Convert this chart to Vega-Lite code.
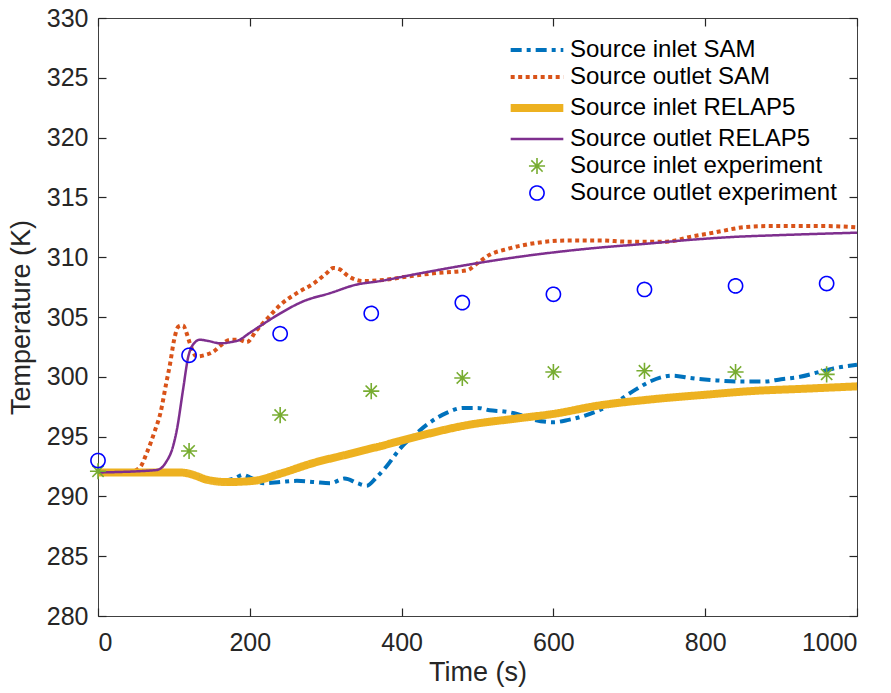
{
  "$schema": "https://vega.github.io/schema/vega-lite/v6.json",
  "width": 759,
  "height": 598,
  "autosize": {"type": "none"},
  "padding": {"left": 98, "top": 18, "right": 34, "bottom": 77},
  "config": {
    "font": "Liberation Sans",
    "view": {"stroke": "#404040", "strokeWidth": 1},
    "axis": {"grid": false, "domain": false, "tickColor": "#262626", "labelColor": "#262626", "titleColor": "#262626", "labelFontSize": 25, "titleFontSize": 27, "titleFontWeight": "normal", "tickSize": 8, "offset": -8, "tickWidth": 1.2},
    "legend": {"labelFontSize": 24, "labelColor": "#000000", "padding": 0, "labelLimit": 500}
  },
  "datasets": {
    "lines": [
      {"s": "Source inlet SAM", "t": 0, "T": 292.0},
      {"s": "Source inlet SAM", "t": 110, "T": 292.0},
      {"s": "Source inlet SAM", "t": 125, "T": 291.8},
      {"s": "Source inlet SAM", "t": 140, "T": 291.5},
      {"s": "Source inlet SAM", "t": 160, "T": 291.3},
      {"s": "Source inlet SAM", "t": 180, "T": 291.5},
      {"s": "Source inlet SAM", "t": 191, "T": 291.8},
      {"s": "Source inlet SAM", "t": 200, "T": 291.6},
      {"s": "Source inlet SAM", "t": 218, "T": 291.1},
      {"s": "Source inlet SAM", "t": 240, "T": 291.2},
      {"s": "Source inlet SAM", "t": 262, "T": 291.3},
      {"s": "Source inlet SAM", "t": 285, "T": 291.2},
      {"s": "Source inlet SAM", "t": 306, "T": 291.1},
      {"s": "Source inlet SAM", "t": 325, "T": 291.5},
      {"s": "Source inlet SAM", "t": 342, "T": 291.1},
      {"s": "Source inlet SAM", "t": 354, "T": 290.9},
      {"s": "Source inlet SAM", "t": 367, "T": 291.6},
      {"s": "Source inlet SAM", "t": 380, "T": 292.5},
      {"s": "Source inlet SAM", "t": 398, "T": 294.0},
      {"s": "Source inlet SAM", "t": 420, "T": 295.3},
      {"s": "Source inlet SAM", "t": 440, "T": 296.3},
      {"s": "Source inlet SAM", "t": 460, "T": 297.0},
      {"s": "Source inlet SAM", "t": 481, "T": 297.4},
      {"s": "Source inlet SAM", "t": 500, "T": 297.4},
      {"s": "Source inlet SAM", "t": 516, "T": 297.2},
      {"s": "Source inlet SAM", "t": 535, "T": 297.1},
      {"s": "Source inlet SAM", "t": 552, "T": 296.9},
      {"s": "Source inlet SAM", "t": 575, "T": 296.4},
      {"s": "Source inlet SAM", "t": 600, "T": 296.2},
      {"s": "Source inlet SAM", "t": 620, "T": 296.4},
      {"s": "Source inlet SAM", "t": 639, "T": 296.7},
      {"s": "Source inlet SAM", "t": 660, "T": 297.2},
      {"s": "Source inlet SAM", "t": 683, "T": 297.9},
      {"s": "Source inlet SAM", "t": 705, "T": 298.8},
      {"s": "Source inlet SAM", "t": 727, "T": 299.6},
      {"s": "Source inlet SAM", "t": 745, "T": 300.0},
      {"s": "Source inlet SAM", "t": 758, "T": 300.1},
      {"s": "Source inlet SAM", "t": 780, "T": 299.9},
      {"s": "Source inlet SAM", "t": 815, "T": 299.7},
      {"s": "Source inlet SAM", "t": 850, "T": 299.6},
      {"s": "Source inlet SAM", "t": 877, "T": 299.6},
      {"s": "Source inlet SAM", "t": 900, "T": 299.8},
      {"s": "Source inlet SAM", "t": 925, "T": 300.0},
      {"s": "Source inlet SAM", "t": 950, "T": 300.4},
      {"s": "Source inlet SAM", "t": 969, "T": 300.7},
      {"s": "Source inlet SAM", "t": 1000, "T": 301.0},

      {"s": "Source outlet SAM", "t": 0, "T": 292.0},
      {"s": "Source outlet SAM", "t": 40, "T": 292.0},
      {"s": "Source outlet SAM", "t": 55, "T": 292.4},
      {"s": "Source outlet SAM", "t": 64, "T": 293.6},
      {"s": "Source outlet SAM", "t": 75, "T": 295.5},
      {"s": "Source outlet SAM", "t": 82, "T": 296.9},
      {"s": "Source outlet SAM", "t": 90, "T": 299.5},
      {"s": "Source outlet SAM", "t": 95, "T": 301.1},
      {"s": "Source outlet SAM", "t": 100, "T": 303.0},
      {"s": "Source outlet SAM", "t": 106, "T": 304.2},
      {"s": "Source outlet SAM", "t": 112, "T": 304.3},
      {"s": "Source outlet SAM", "t": 117, "T": 303.6},
      {"s": "Source outlet SAM", "t": 121, "T": 302.8},
      {"s": "Source outlet SAM", "t": 130, "T": 301.7},
      {"s": "Source outlet SAM", "t": 140, "T": 301.8},
      {"s": "Source outlet SAM", "t": 152, "T": 302.1},
      {"s": "Source outlet SAM", "t": 163, "T": 302.7},
      {"s": "Source outlet SAM", "t": 174, "T": 303.1},
      {"s": "Source outlet SAM", "t": 185, "T": 303.1},
      {"s": "Source outlet SAM", "t": 196, "T": 302.9},
      {"s": "Source outlet SAM", "t": 209, "T": 303.9},
      {"s": "Source outlet SAM", "t": 225, "T": 305.0},
      {"s": "Source outlet SAM", "t": 240, "T": 306.0},
      {"s": "Source outlet SAM", "t": 262, "T": 307.0},
      {"s": "Source outlet SAM", "t": 284, "T": 307.8},
      {"s": "Source outlet SAM", "t": 300, "T": 308.6},
      {"s": "Source outlet SAM", "t": 310, "T": 309.1},
      {"s": "Source outlet SAM", "t": 318, "T": 309.0},
      {"s": "Source outlet SAM", "t": 330, "T": 308.4},
      {"s": "Source outlet SAM", "t": 350, "T": 308.0},
      {"s": "Source outlet SAM", "t": 376, "T": 308.1},
      {"s": "Source outlet SAM", "t": 410, "T": 308.4},
      {"s": "Source outlet SAM", "t": 442, "T": 308.65},
      {"s": "Source outlet SAM", "t": 486, "T": 308.9},
      {"s": "Source outlet SAM", "t": 500, "T": 309.5},
      {"s": "Source outlet SAM", "t": 516, "T": 310.2},
      {"s": "Source outlet SAM", "t": 540, "T": 310.7},
      {"s": "Source outlet SAM", "t": 578, "T": 311.2},
      {"s": "Source outlet SAM", "t": 620, "T": 311.4},
      {"s": "Source outlet SAM", "t": 661, "T": 311.4},
      {"s": "Source outlet SAM", "t": 700, "T": 311.3},
      {"s": "Source outlet SAM", "t": 749, "T": 311.3},
      {"s": "Source outlet SAM", "t": 780, "T": 311.7},
      {"s": "Source outlet SAM", "t": 815, "T": 312.1},
      {"s": "Source outlet SAM", "t": 850, "T": 312.5},
      {"s": "Source outlet SAM", "t": 880, "T": 312.6},
      {"s": "Source outlet SAM", "t": 920, "T": 312.6},
      {"s": "Source outlet SAM", "t": 960, "T": 312.6},
      {"s": "Source outlet SAM", "t": 1000, "T": 312.5},

      {"s": "Source inlet RELAP5", "t": 0, "T": 292.0},
      {"s": "Source inlet RELAP5", "t": 108, "T": 292.0},
      {"s": "Source inlet RELAP5", "t": 120, "T": 291.9},
      {"s": "Source inlet RELAP5", "t": 130, "T": 291.7},
      {"s": "Source inlet RELAP5", "t": 143, "T": 291.4},
      {"s": "Source inlet RELAP5", "t": 170, "T": 291.2},
      {"s": "Source inlet RELAP5", "t": 205, "T": 291.3},
      {"s": "Source inlet RELAP5", "t": 240, "T": 291.9},
      {"s": "Source inlet RELAP5", "t": 284, "T": 292.8},
      {"s": "Source inlet RELAP5", "t": 328, "T": 293.5},
      {"s": "Source inlet RELAP5", "t": 372, "T": 294.2},
      {"s": "Source inlet RELAP5", "t": 420, "T": 295.0},
      {"s": "Source inlet RELAP5", "t": 490, "T": 296.0},
      {"s": "Source inlet RELAP5", "t": 550, "T": 296.5},
      {"s": "Source inlet RELAP5", "t": 600, "T": 296.9},
      {"s": "Source inlet RELAP5", "t": 660, "T": 297.6},
      {"s": "Source inlet RELAP5", "t": 727, "T": 298.1},
      {"s": "Source inlet RELAP5", "t": 800, "T": 298.5},
      {"s": "Source inlet RELAP5", "t": 859, "T": 298.8},
      {"s": "Source inlet RELAP5", "t": 930, "T": 299.0},
      {"s": "Source inlet RELAP5", "t": 1000, "T": 299.2},

      {"s": "Source outlet RELAP5", "t": 0, "T": 292.0},
      {"s": "Source outlet RELAP5", "t": 77, "T": 292.2},
      {"s": "Source outlet RELAP5", "t": 90, "T": 292.9},
      {"s": "Source outlet RELAP5", "t": 98, "T": 294.0},
      {"s": "Source outlet RELAP5", "t": 104, "T": 295.6},
      {"s": "Source outlet RELAP5", "t": 112, "T": 298.9},
      {"s": "Source outlet RELAP5", "t": 119, "T": 301.7},
      {"s": "Source outlet RELAP5", "t": 128, "T": 302.9},
      {"s": "Source outlet RELAP5", "t": 134, "T": 303.1},
      {"s": "Source outlet RELAP5", "t": 145, "T": 303.0},
      {"s": "Source outlet RELAP5", "t": 161, "T": 302.8},
      {"s": "Source outlet RELAP5", "t": 175, "T": 302.9},
      {"s": "Source outlet RELAP5", "t": 187, "T": 303.1},
      {"s": "Source outlet RELAP5", "t": 196, "T": 303.5},
      {"s": "Source outlet RELAP5", "t": 215, "T": 304.3},
      {"s": "Source outlet RELAP5", "t": 240, "T": 305.3},
      {"s": "Source outlet RELAP5", "t": 270, "T": 306.3},
      {"s": "Source outlet RELAP5", "t": 306, "T": 307.0},
      {"s": "Source outlet RELAP5", "t": 340, "T": 307.7},
      {"s": "Source outlet RELAP5", "t": 371, "T": 308.0},
      {"s": "Source outlet RELAP5", "t": 420, "T": 308.6},
      {"s": "Source outlet RELAP5", "t": 481, "T": 309.3},
      {"s": "Source outlet RELAP5", "t": 540, "T": 309.9},
      {"s": "Source outlet RELAP5", "t": 600, "T": 310.4},
      {"s": "Source outlet RELAP5", "t": 660, "T": 310.8},
      {"s": "Source outlet RELAP5", "t": 718, "T": 311.1},
      {"s": "Source outlet RELAP5", "t": 780, "T": 311.45},
      {"s": "Source outlet RELAP5", "t": 839, "T": 311.7},
      {"s": "Source outlet RELAP5", "t": 900, "T": 311.85},
      {"s": "Source outlet RELAP5", "t": 1000, "T": 312.05}
    ],
    "points": [
      {"s": "Source inlet experiment", "t": 0, "T": 292.1},
      {"s": "Source inlet experiment", "t": 120, "T": 293.8},
      {"s": "Source inlet experiment", "t": 240, "T": 296.8},
      {"s": "Source inlet experiment", "t": 360, "T": 298.8},
      {"s": "Source inlet experiment", "t": 480, "T": 299.9},
      {"s": "Source inlet experiment", "t": 600, "T": 300.4},
      {"s": "Source inlet experiment", "t": 720, "T": 300.5},
      {"s": "Source inlet experiment", "t": 840, "T": 300.4},
      {"s": "Source inlet experiment", "t": 960, "T": 300.2},
      {"s": "Source outlet experiment", "t": 0, "T": 293.0},
      {"s": "Source outlet experiment", "t": 120, "T": 301.8},
      {"s": "Source outlet experiment", "t": 240, "T": 303.6},
      {"s": "Source outlet experiment", "t": 360, "T": 305.3},
      {"s": "Source outlet experiment", "t": 480, "T": 306.2},
      {"s": "Source outlet experiment", "t": 600, "T": 306.9},
      {"s": "Source outlet experiment", "t": 720, "T": 307.3},
      {"s": "Source outlet experiment", "t": 840, "T": 307.6},
      {"s": "Source outlet experiment", "t": 960, "T": 307.8}
    ]
  },
  "resolve": {"axis": {"x": "independent", "y": "independent"}},
  "encoding": {
    "color": {"field": "s", "type": "nominal", "scale": {"domain": ["Source inlet SAM", "Source outlet SAM", "Source inlet RELAP5", "Source outlet RELAP5", "Source inlet experiment", "Source outlet experiment"], "range": ["#0072BD", "#D95319", "#EDB120", "#7E2F8E", "#77AC30", "#0000FF"]}, "legend": {"title": null, "orient": "top-right", "offset": 20, "labelOffset": 20, "rowPadding": 3}},
    "strokeDash": {"field": "s", "type": "nominal", "scale": {"domain": ["Source inlet SAM", "Source outlet SAM", "Source inlet RELAP5", "Source outlet RELAP5", "Source inlet experiment", "Source outlet experiment"], "range": [[11, 5, 4, 5], [4, 3.5], [1, 0], [1, 0], [1, 0], [1, 0]]}, "legend": {"title": null, "orient": "top-right", "offset": 20, "labelOffset": 20, "rowPadding": 3}},
    "strokeWidth": {"field": "s", "type": "nominal", "scale": {"type": "ordinal", "domain": ["Source inlet SAM", "Source outlet SAM", "Source inlet RELAP5", "Source outlet RELAP5", "Source inlet experiment", "Source outlet experiment"], "range": [4, 4, 8, 2.5, 1.6, 1.6]}, "legend": {"title": null, "orient": "top-right", "offset": 20, "labelOffset": 20, "rowPadding": 3}}
  },
  "layer": [
    {
      "data": {"name": "lines"},
      "transform": [{"filter": "datum.s === 'Source inlet SAM'"}],
      "mark": {"type": "line", "interpolate": "monotone", "clip": false},
      "encoding": {
        "x": {"field": "t", "type": "quantitative", "scale": {"domain": [0, 1000], "nice": false, "zero": false}, "axis": {"title": "Time (s)", "values": [0, 200, 400, 600, 800, 1000], "format": "d", "labelPadding": 14, "titlePadding": 4}},
        "y": {"field": "T", "type": "quantitative", "scale": {"domain": [280, 330], "nice": false, "zero": false}, "axis": {"title": "Temperature (K)", "values": [280, 285, 290, 295, 300, 305, 310, 315, 320, 325, 330], "labelPadding": 10, "titlePadding": 11}}
      }
    },
    {
      "data": {"name": "lines"},
      "transform": [{"filter": "datum.s === 'Source outlet SAM'"}],
      "mark": {"type": "line", "interpolate": "monotone", "clip": false},
      "encoding": {
        "x": {"field": "t", "type": "quantitative", "axis": {"orient": "top", "title": null, "labels": false, "values": [0, 200, 400, 600, 800, 1000]}},
        "y": {"field": "T", "type": "quantitative", "axis": {"orient": "right", "title": null, "labels": false, "values": [280, 285, 290, 295, 300, 305, 310, 315, 320, 325, 330]}}
      }
    },
    {
      "data": {"name": "lines"},
      "transform": [{"filter": "datum.s === 'Source inlet RELAP5'"}],
      "mark": {"type": "line", "interpolate": "monotone", "clip": false},
      "encoding": {
        "x": {"field": "t", "type": "quantitative", "axis": null},
        "y": {"field": "T", "type": "quantitative", "axis": null}
      }
    },
    {
      "data": {"name": "lines"},
      "transform": [{"filter": "datum.s === 'Source outlet RELAP5'"}],
      "mark": {"type": "line", "interpolate": "monotone", "clip": false},
      "encoding": {
        "x": {"field": "t", "type": "quantitative", "axis": null},
        "y": {"field": "T", "type": "quantitative", "axis": null}
      }
    },
    {
      "data": {"name": "points"},
      "mark": {"type": "point", "filled": false, "opacity": 1},
      "encoding": {
        "x": {"field": "t", "type": "quantitative", "axis": null},
        "y": {"field": "T", "type": "quantitative", "axis": null},
        "shape": {"field": "s", "type": "nominal", "scale": {"domain": ["Source inlet SAM", "Source outlet SAM", "Source inlet RELAP5", "Source outlet RELAP5", "Source inlet experiment", "Source outlet experiment"], "range": ["M-3,0L3,0", "M-3,0L3,0", "M-3,0L3,0", "M-3,0L3,0", "M0,-1L0,1M-1,0L1,0M-0.7,-0.7L0.7,0.7M-0.7,0.7L0.7,-0.7", "circle"]}, "legend": {"title": null, "orient": "top-right", "offset": 20, "labelOffset": 20, "rowPadding": 3}},
        "size": {"field": "s", "type": "nominal", "scale": {"type": "ordinal", "domain": ["Source inlet SAM", "Source outlet SAM", "Source inlet RELAP5", "Source outlet RELAP5", "Source inlet experiment", "Source outlet experiment"], "range": [308, 308, 308, 308, 260, 200]}, "legend": {"title": null, "orient": "top-right", "offset": 20, "labelOffset": 20, "rowPadding": 3}}
      }
    }
  ]
}
